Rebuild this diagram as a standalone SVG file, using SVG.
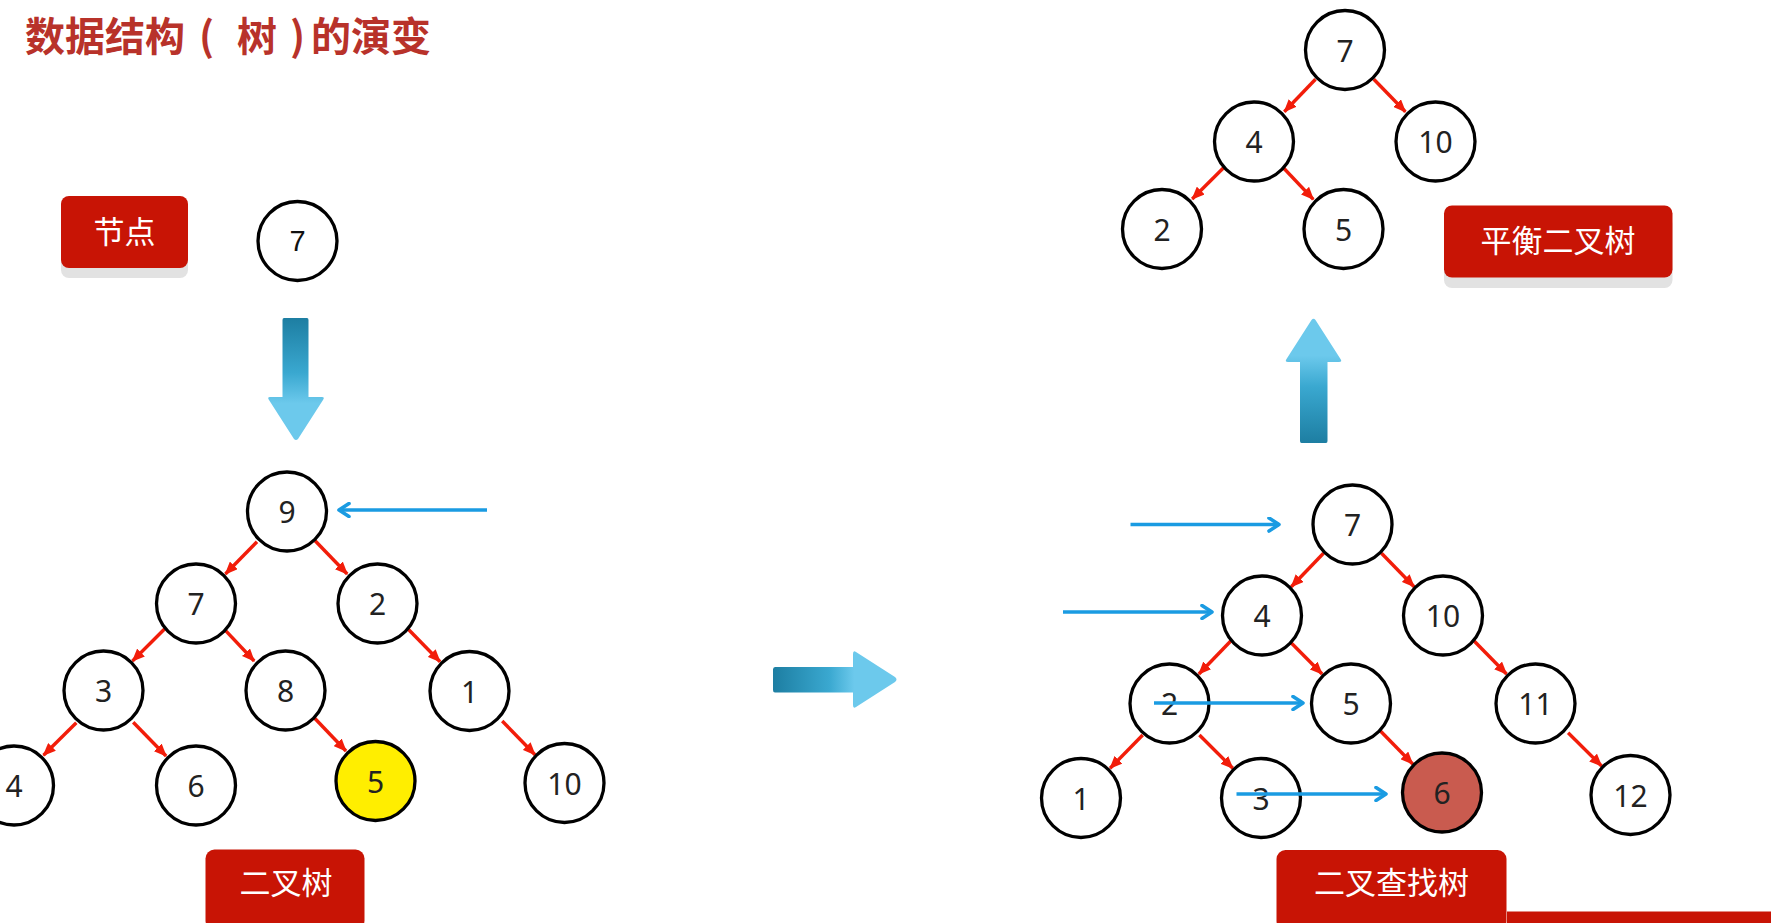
<svg xmlns="http://www.w3.org/2000/svg" width="1771" height="923" viewBox="0 0 1771 923">
<style>
.n{fill:#fff;stroke:#000;stroke-width:3.3}
.t{font-family:"Noto Sans","Open Sans",sans-serif;font-size:30px;fill:#222;text-anchor:middle;dominant-baseline:central}
.e{stroke:#f21d0a;stroke-width:3.4;fill:none;marker-end:url(#ra)}
.b{stroke:#1a9be2;stroke-width:3.6;fill:none;marker-end:url(#ba)}
.lb{fill:#c81405}
.sh{fill:#e2e2e2}
.lt{font-family:"Noto Sans CJK SC",sans-serif;font-size:31px;fill:#fff;text-anchor:middle;dominant-baseline:central}
.title{font-family:"Noto Sans CJK SC",sans-serif;font-size:40px;font-weight:bold;fill:#b8322a}
</style>
<defs>
<marker id="ra" viewBox="0 0 13 11" refX="12" refY="5.5" markerWidth="13" markerHeight="11" markerUnits="userSpaceOnUse" orient="auto">
<path d="M0,0 L13,5.5 L0,11 Z" fill="#f21d0a"/>
</marker>
<marker id="ba" viewBox="0 0 14 16" refX="12" refY="8" markerWidth="14" markerHeight="16" markerUnits="userSpaceOnUse" orient="auto">
<path d="M2,1.5 L12,8 L2,14.5" fill="none" stroke="#1a9be2" stroke-width="3.6" stroke-linecap="round" stroke-linejoin="round"/>
</marker>
<linearGradient id="gDown" x1="0" y1="318" x2="0" y2="440" gradientUnits="userSpaceOnUse">
<stop offset="0" stop-color="#1d7ea2"/><stop offset="0.45" stop-color="#3aa8d0"/><stop offset="0.7" stop-color="#6cc9ec"/><stop offset="1" stop-color="#6cc9ec"/>
</linearGradient>
<linearGradient id="gUp" x1="0" y1="443" x2="0" y2="318" gradientUnits="userSpaceOnUse">
<stop offset="0" stop-color="#1d7ea2"/><stop offset="0.45" stop-color="#3aa8d0"/><stop offset="0.7" stop-color="#6cc9ec"/><stop offset="1" stop-color="#6cc9ec"/>
</linearGradient>
<linearGradient id="gRight" x1="773" y1="0" x2="898" y2="0" gradientUnits="userSpaceOnUse">
<stop offset="0" stop-color="#1d7ea2"/><stop offset="0.45" stop-color="#3aa8d0"/><stop offset="0.65" stop-color="#6cc9ec"/><stop offset="1" stop-color="#6cc9ec"/>
</linearGradient>
</defs>
<rect width="1771" height="923" fill="#fff"/>

<text class="title" y="51"><tspan x="25">数据结构</tspan><tspan x="199">(</tspan><tspan x="237">树</tspan><tspan x="290">)</tspan><tspan x="311">的演变</tspan></text>

<g id="label-jiedian">
<rect class="sh" x="61" y="206" width="127" height="72" rx="8"/>
<rect class="lb" x="61" y="196" width="127" height="72" rx="8"/>
<text class="lt" x="124.5" y="229">节点</text>
</g>
<g id="node-single-7">
<circle class="n" cx="297.5" cy="241" r="39.5"/>
<text x="297.5" y="241" style="font-family:'Liberation Sans',Arial,sans-serif;font-size:29px;fill:#111;text-anchor:middle;dominant-baseline:central">7</text>
</g>
<g id="arrow-down">
<path d="M284,318 L307,318 Q308.5,318 308.5,320 L308.5,397 L322,397 Q325,397 323,400 L298,439 Q296,441 294,439 L269,400 Q267,397 270,397 L282.5,397 L282.5,320 Q282.5,318 284,318 Z" fill="url(#gDown)"/>
</g>

<g id="connectors">
<line class="e" x1="257" y1="541.7" x2="225.4" y2="574"/>
<line class="e" x1="315.1" y1="540.7" x2="347.2" y2="574"/>
<line class="e" x1="165.3" y1="628.3" x2="132.5" y2="661"/>
<line class="e" x1="222.6" y1="627.3" x2="254.2" y2="661"/>
<line class="e" x1="407.3" y1="628.3" x2="440.1" y2="661.7"/>
<line class="e" x1="76.3" y1="722.7" x2="43.5" y2="755.3"/>
<line class="e" x1="133.2" y1="722.3" x2="166.1" y2="756"/>
<line class="e" x1="313.5" y1="717" x2="346" y2="751"/>
<line class="e" x1="502.2" y1="721" x2="535" y2="754.7"/>
<line class="b" x1="487" y1="510" x2="339" y2="510"/>

<line class="e" x1="1315.5" y1="79.3" x2="1284.3" y2="111.7"/>
<line class="e" x1="1373.8" y1="79.3" x2="1405.4" y2="111.7"/>
<line class="e" x1="1224.6" y1="166.7" x2="1192.2" y2="199"/>
<line class="e" x1="1281.7" y1="166" x2="1313.3" y2="199.3"/>

<line class="e" x1="1323.5" y1="553.3" x2="1291.3" y2="586.7"/>
<line class="e" x1="1381.5" y1="553.3" x2="1414.1" y2="586.7"/>
<line class="e" x1="1231" y1="640.7" x2="1198.9" y2="674"/>
<line class="e" x1="1289.1" y1="640.7" x2="1322.1" y2="674"/>
<line class="e" x1="1473.9" y1="640.7" x2="1506.5" y2="674"/>
<line class="e" x1="1142.7" y1="735" x2="1110.1" y2="768.3"/>
<line class="e" x1="1199.4" y1="735" x2="1232.8" y2="768.3"/>
<line class="e" x1="1380.2" y1="730.7" x2="1412.7" y2="764"/>
<line class="e" x1="1568.1" y1="732.7" x2="1601.6" y2="766"/>
</g>

<g id="bt-9"><circle class="n" cx="287" cy="511.5" r="39.5"/><text class="t" x="287" y="511.5">9</text></g>
<g id="bt-7"><circle class="n" cx="196" cy="603.5" r="39.5"/><text class="t" x="196" y="603.5">7</text></g>
<g id="bt-2"><circle class="n" cx="377.5" cy="603.5" r="39.5"/><text class="t" x="377.5" y="603.5">2</text></g>
<g id="bt-3"><circle class="n" cx="103.5" cy="690.5" r="39.5"/><text class="t" x="103.5" y="690.5">3</text></g>
<g id="bt-8"><circle class="n" cx="285.5" cy="690.5" r="39.5"/><text class="t" x="285.5" y="690.5">8</text></g>
<g id="bt-1"><circle class="n" cx="469.5" cy="691" r="39.5"/><text class="t" x="469.5" y="691">1</text></g>
<g id="bt-4"><circle class="n" cx="14" cy="785.5" r="39.5"/><text class="t" x="14" y="785.5">4</text></g>
<g id="bt-6"><circle class="n" cx="196" cy="785.5" r="39.5"/><text class="t" x="196" y="785.5">6</text></g>
<g id="bt-5"><circle class="n" cx="375.5" cy="781" r="39.5" style="fill:#ffee00"/><text class="t" x="375.5" y="781">5</text></g>
<g id="bt-10"><circle class="n" cx="564.5" cy="783" r="39.5"/><text class="t" x="564.5" y="783">10</text></g>

<g id="label-erchashu">
<rect class="lb" x="205.5" y="849.5" width="159" height="80" rx="9"/>
<text class="lt" x="286" y="880.5">二叉树</text>
</g>

<g id="arrow-right">
<path d="M775,667 L853,667 L853,654 Q853,650 856,652 L895,677 Q898,679.5 895,682 L856,707 Q853,709 853,705 L853,692.5 L775,692.5 Q773,692.5 773,690 L773,669.5 Q773,667 775,667 Z" fill="url(#gRight)"/>
</g>

<g id="avl-7"><circle class="n" cx="1345" cy="50" r="39.5"/><text class="t" x="1345" y="50">7</text></g>
<g id="avl-4"><circle class="n" cx="1254" cy="141.5" r="39.5"/><text class="t" x="1254" y="141.5">4</text></g>
<g id="avl-10"><circle class="n" cx="1435.5" cy="141.5" r="39.5"/><text class="t" x="1435.5" y="141.5">10</text></g>
<g id="avl-2"><circle class="n" cx="1162" cy="229" r="39.5"/><text class="t" x="1162" y="229">2</text></g>
<g id="avl-5"><circle class="n" cx="1343.5" cy="229" r="39.5"/><text class="t" x="1343.5" y="229">5</text></g>

<g id="label-avl">
<rect class="sh" x="1444" y="216" width="228.5" height="72" rx="8"/>
<rect class="lb" x="1444" y="205.5" width="228.5" height="72" rx="8"/>
<text class="lt" x="1558" y="238">平衡二叉树</text>
</g>

<g id="arrow-up">
<path d="M1301.5,443 L1326,443 Q1327.5,443 1327.5,441 L1327.5,362 L1339,362 Q1342.5,362 1340.5,359 L1315.5,320 Q1313.5,317.5 1311.5,320 L1286.5,359 Q1284.5,362 1288,362 L1300,362 L1300,441 Q1300,443 1301.5,443 Z" fill="url(#gUp)"/>
</g>

<g id="bst-7"><circle class="n" cx="1352.5" cy="524.5" r="39.5"/><text class="t" x="1352.5" y="524.5">7</text></g>
<g id="bst-4"><circle class="n" cx="1262" cy="615.5" r="39.5"/><text class="t" x="1262" y="615.5">4</text></g>
<g id="bst-10"><circle class="n" cx="1443" cy="615.5" r="39.5"/><text class="t" x="1443" y="615.5">10</text></g>
<g id="bst-2"><circle class="n" cx="1169.5" cy="703.5" r="39.5"/><text class="t" x="1169.5" y="703.5">2</text></g>
<g id="bst-5"><circle class="n" cx="1351" cy="703.5" r="39.5"/><text class="t" x="1351" y="703.5">5</text></g>
<g id="bst-11"><circle class="n" cx="1535.5" cy="703.5" r="39.5"/><text class="t" x="1535.5" y="703.5">11</text></g>
<g id="bst-1"><circle class="n" cx="1081" cy="798" r="39.5"/><text class="t" x="1081" y="798">1</text></g>
<g id="bst-3"><circle class="n" cx="1261" cy="798" r="39.5"/><text class="t" x="1261" y="798">3</text></g>
<g id="bst-6"><circle class="n" cx="1442" cy="792.5" r="39.5" style="fill:#c95b4f"/><text class="t" x="1442" y="792.5">6</text></g>
<g id="bst-12"><circle class="n" cx="1630.5" cy="795" r="39.5"/><text class="t" x="1630.5" y="795">12</text></g>

<g id="search-arrows">
<line class="b" x1="1130.5" y1="524.5" x2="1279" y2="524.5"/>
<line class="b" x1="1063" y1="612" x2="1212" y2="612"/>
<line class="b" x1="1154" y1="703" x2="1303" y2="703"/>
<line class="b" x1="1236.5" y1="794" x2="1386" y2="794"/>
</g>

<g id="label-bst">
<rect class="lb" x="1276.5" y="850" width="230" height="80" rx="9"/>
<text class="lt" x="1391.5" y="880.5">二叉查找树</text>
</g>

<rect x="1507" y="911.5" width="264" height="12" fill="#c81405"/>
</svg>
